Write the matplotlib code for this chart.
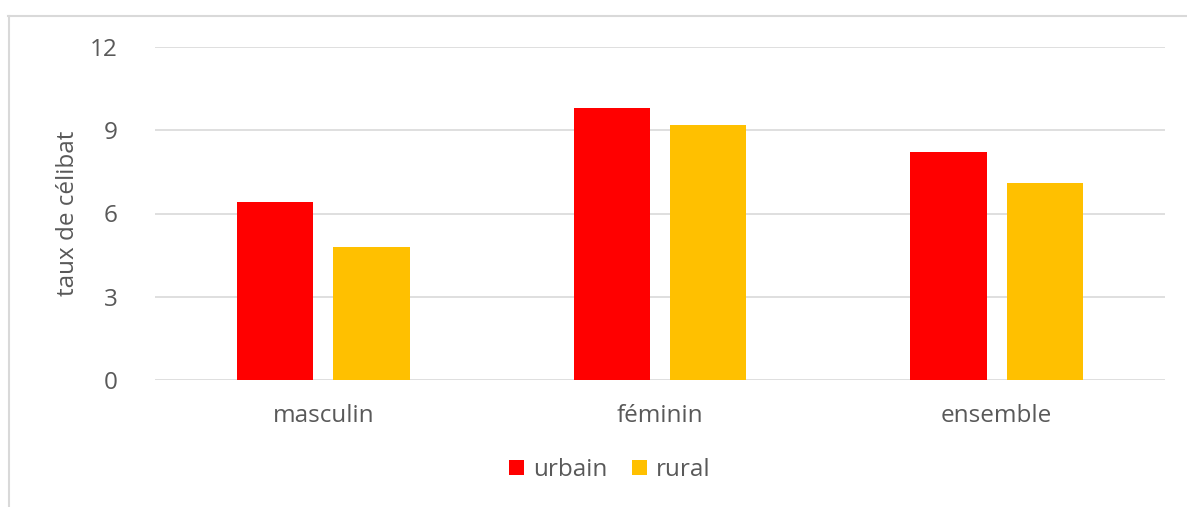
import numpy as np
import matplotlib.pyplot as plt
from matplotlib.lines import Line2D

# data
categories = ['masculin', 'féminin', 'ensemble']
urbain = [6.4, 9.8, 8.2]
rural = [4.8, 9.2, 7.1]
yticks = [0, 3, 6, 9, 12]

text_color = '#595959'
plt.rcParams['font.family'] = ['Open Sans', 'DejaVu Sans']
fs = 17.5

fig = plt.figure(figsize=(11.87, 5.07), dpi=100)
# plot area in pixels: x 155..1165, y 47..380 (from top)
W, H = 1187, 507
ax = fig.add_axes([155 / W, 1 - 380 / H, 1010 / W, 333 / H])

x = np.arange(len(categories))
width = 0.226
offset = 0.143
ax.bar(x - offset, urbain, width, color='#ff0000', label='urbain', zorder=3)
ax.bar(x + offset, rural, width, color='#ffc000', label='rural', zorder=3)

ax.set_xlim(-0.5, len(categories) - 0.5)
ax.set_ylim(0, 12)
ax.set_yticks(yticks)
ax.set_yticklabels([str(t) for t in yticks])
ax.set_xticks(x)
ax.set_xticklabels(categories)
ax.grid(axis='y', color='#d9d9d9', linewidth=1.2, zorder=0)
for s in ax.spines.values():
    s.set_visible(False)
ax.tick_params(axis='both', length=0, colors=text_color, labelsize=fs)
ax.tick_params(axis='y', pad=27)
ax.tick_params(axis='x', pad=17)
ax.set_ylabel('taux de célibat', color=text_color, fontsize=fs)
ax.yaxis.set_label_coords(-75 / 1010, 0.5)

ax.legend(loc='center', bbox_to_anchor=(610 / W, 1 - 470 / H), bbox_transform=fig.transFigure,
          ncol=2, frameon=False, fontsize=fs, labelcolor=text_color,
          handlelength=0.6, handleheight=0.6, handletextpad=0.4, columnspacing=1.0)

# outer frame of the chart (top and left only visible)
fig.add_artist(Line2D([8 / W, 1], [1 - 16 / H, 1 - 16 / H], transform=fig.transFigure,
                      color='#d9d9d9', linewidth=1.5))
fig.add_artist(Line2D([9 / W, 9 / W], [0, 1 - 16 / H], transform=fig.transFigure,
                      color='#d9d9d9', linewidth=1.5))

fig.savefig('out.png', dpi=100)
